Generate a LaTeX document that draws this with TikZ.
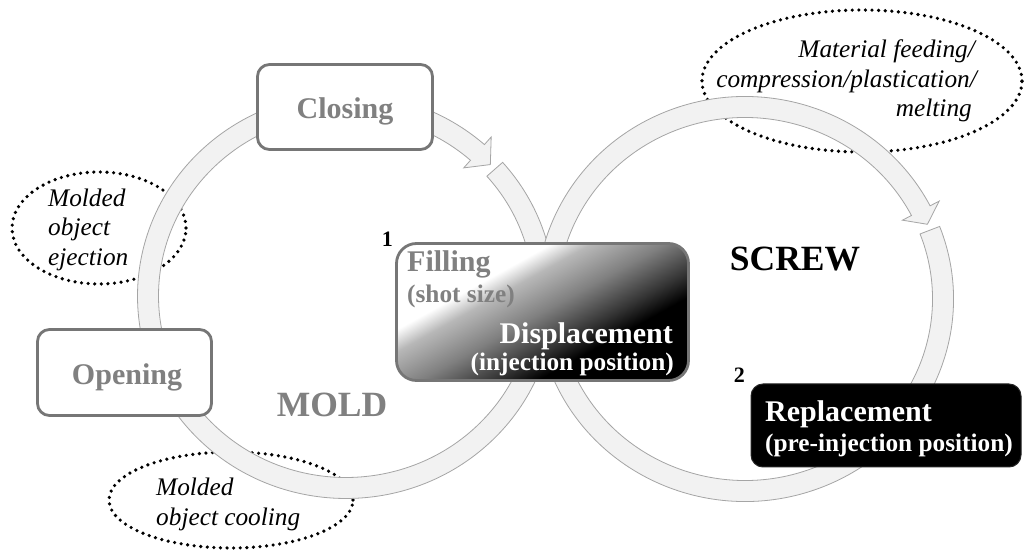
\documentclass[tikz,border=0pt]{standalone}
\usepackage{fontspec}
\setmainfont{Liberation Serif}
\usetikzlibrary{calc}
\definecolor{txtgray}{RGB}{128,128,128}
\definecolor{boxgray}{RGB}{118,118,118}
\definecolor{ringfill}{RGB}{242,242,242}
\definecolor{ringline}{RGB}{165,165,165}
\pgfdeclareverticalshading{fillgrad}{100bp}{color(0bp)=(black); color(35bp)=(black); color(40.6bp)=(black!80); color(50bp)=(black!50); color(59.4bp)=(black!28); color(64.5bp)=(white); color(100bp)=(white)}
% #1 centre, #2 angle of head back, #3 angle of tip, #4 angle where ring restarts
\newcommand{\myringarrow}[4]{%
  \path[ringstyle] ($(#1)+(#4:208.5pt and 202.5pt)$)
    arc[start angle=#4, end angle={#2-360}, x radius=208.5pt, y radius=202.5pt]
    -- ($(#1)+(#2:218.7pt and 212.7pt)$)
    -- ($(#1)+(#3:198pt and 192pt)$)
    -- ($(#1)+(#2:177.3pt and 171.3pt)$)
    -- ($(#1)+(#2:187.5pt and 181.5pt)$)
    arc[start angle=#2, end angle={#4+360}, x radius=187.5pt, y radius=181.5pt]
    -- cycle;}
\begin{document}
\begin{tikzpicture}[x=1pt,y=1pt,
  ringstyle/.style={fill=ringfill, draw=ringline, line width=0.8pt},
  dotellipse/.style={draw=black, line width=3.6pt, line cap=round, dash pattern=on 0pt off 6.6pt},
  graybox/.style={draw=boxgray, line width=2.8pt, rounded corners=12pt, fill=white, inner sep=0pt},
  bigbold/.style={font=\fontsize{30}{36}\selectfont\bfseries},
  subbold/.style={font=\fontsize{25.3}{30}\selectfont\bfseries},
  huge/.style={font=\fontsize{35.5}{42}\selectfont\bfseries},
  numlab/.style={font=\fontsize{22}{26}\selectfont\bfseries, text=black, inner sep=0pt},
  itl/.style={font=\fontsize{25.3}{30}\selectfont\itshape, inner sep=0pt},
  txt/.style={inner sep=0pt}
]
\useasboundingbox (0,0) rectangle (1028,549);
\fill[white] (0,0) rectangle (1028,549);

% dotted ellipses (under the rings)
\draw[dotellipse] (99,321) ellipse [x radius=87pt, y radius=56pt];
\draw[dotellipse] (231,49) ellipse [x radius=122pt, y radius=48pt];
\draw[dotellipse] (862,468) ellipse [x radius=160pt, y radius=71pt];

% ring arrows
\coordinate (LC) at (346,253);
\coordinate (RC) at (745,250);
\myringarrow{LC}{48.4}{43.2}{41.3}
\myringarrow{RC}{27.4}{22.9}{21.0}

% boxes
\node[graybox, minimum width=175pt, minimum height=85pt] (closing) at (345,442) {};
\node[graybox, minimum width=174pt, minimum height=86pt] (opening) at (124.5,176.5) {};
\node[draw=boxgray, line width=2.8pt, rounded corners=20pt, shade, shading=fillgrad, shading angle=29,
      minimum width=292pt, minimum height=137pt, inner sep=0pt] (filling) at (542.5,237) {};
\node[draw=black!85, fill=black, line width=1pt, rounded corners=12pt,
      minimum width=270pt, minimum height=83pt, inner sep=0pt] (replace) at (886,123.5) {};

% box texts
\node[txt, bigbold, text=txtgray, anchor=base] (closingtxt) at (345,430) {Closing};
\node[txt, bigbold, text=txtgray, anchor=base] (openingtxt) at (127,164) {Opening};
\node[txt, bigbold, text=txtgray, anchor=base west] (fillingtxt) at (407,277) {Filling};
\node[txt, subbold, text=txtgray, anchor=base west] (shottxt) at (407,246) {(shot size)};
\node[txt, bigbold, text=white, anchor=base east] (disptxt) at (673,205) {Displacement};
\node[txt, subbold, text=white, anchor=base east] (injtxt) at (674,178) {(injection position)};
\node[txt, bigbold, text=white, anchor=base west] (reptxt) at (765,127) {Replacement};
\node[txt, subbold, text=white, anchor=base west] (preinjtxt) at (765,97) {(pre-injection position)};

% numbers
\node[numlab, anchor=base east] (num1) at (393,302) {1};
\node[numlab, anchor=base east] (num2) at (745,166) {2};

% big labels
\node[txt, huge, text=txtgray, anchor=base] (mold) at (332,132) {MOLD};
\node[txt, huge, text=black, anchor=base] (screw) at (795,278) {SCREW};

% italic notes
\node[itl, anchor=base west] (ej1) at (48,342) {Molded};
\node[itl, anchor=base west] (ej2) at (48,313) {object};
\node[itl, anchor=base west] (ej3) at (48,283) {ejection};
\node[itl, anchor=base west] (co1) at (156,54) {Molded};
\node[itl, anchor=base west] (co2) at (156,24) {object cooling};
\node[itl, anchor=base east] (ma1) at (975,491) {Material feeding/};
\node[itl, anchor=base east] (ma2) at (977,461.5) {compression/plastication/};
\node[itl, anchor=base east] (ma3) at (972,432) {melting};
\end{tikzpicture}
\end{document}
